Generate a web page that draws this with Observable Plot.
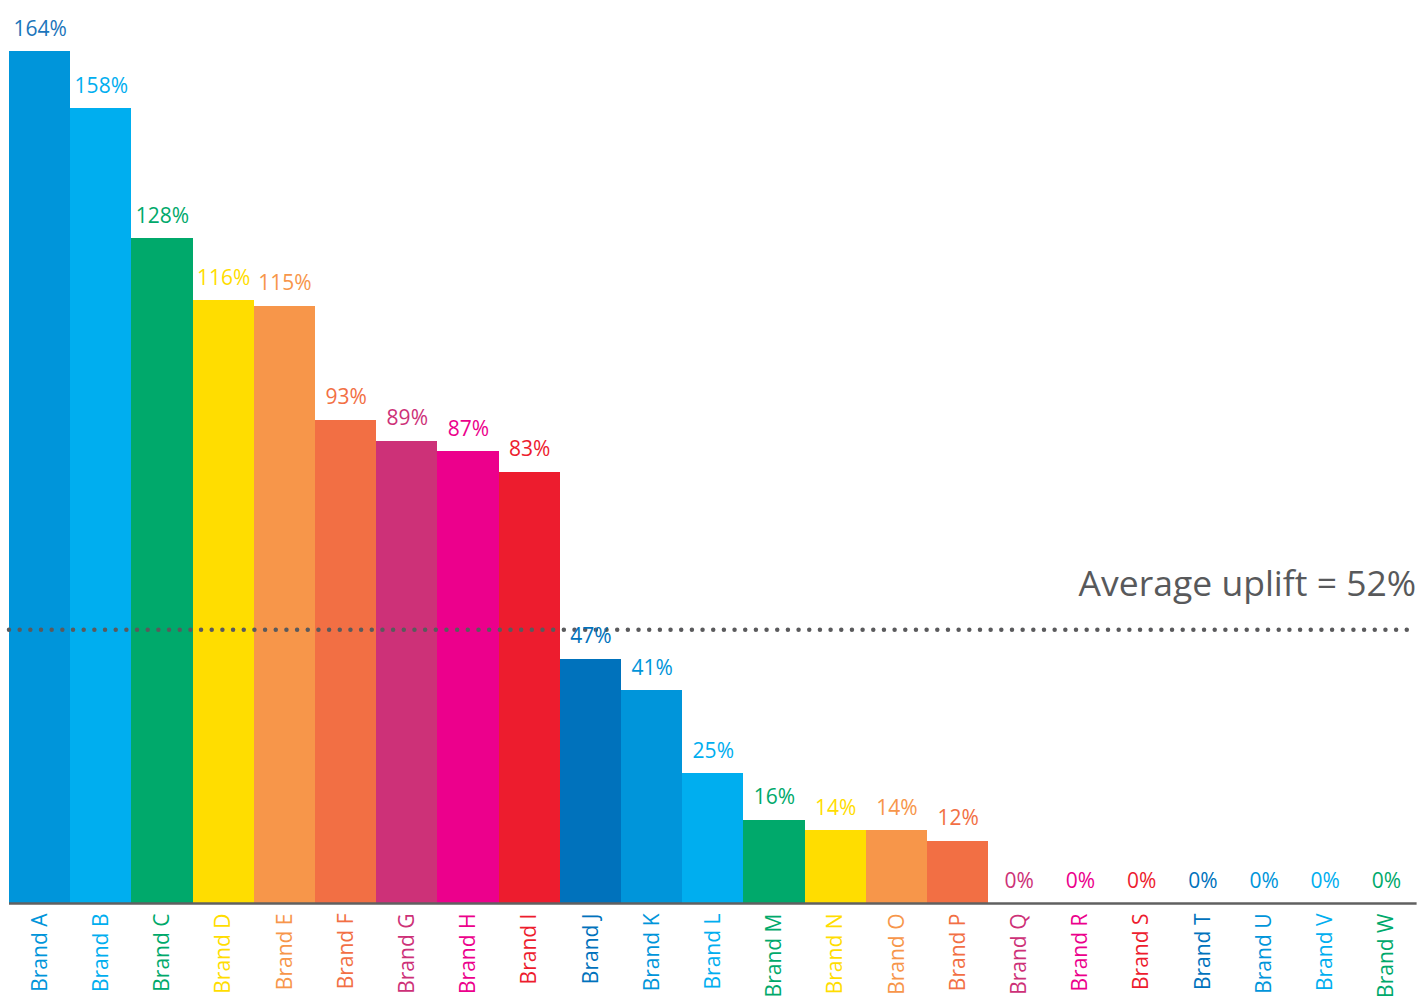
<!DOCTYPE html>
<html>
<head>
<meta charset="utf-8">
<script src="https://cdn.jsdelivr.net/npm/d3@7"></script>
<script src="https://cdn.jsdelivr.net/npm/@observablehq/plot@0.6"></script>
<style>
  html, body { margin: 0; padding: 0; background: #fff; }
  #chart svg { display: block; }
</style>
</head>
<body>
<div id="chart"></div>
<script>
const brands = ["Brand A","Brand B","Brand C","Brand D","Brand E","Brand F","Brand G","Brand H","Brand I","Brand J","Brand K","Brand L","Brand M","Brand N","Brand O","Brand P","Brand Q","Brand R","Brand S","Brand T","Brand U","Brand V","Brand W"];
// bar heights as drawn in the picture
const barValues = [164,153,128,116,115,93,89,87,83,47,41,25,16,14,14,12,0,0,0,0,0,0,0];
// value labels as printed
const valueLabels = ["164%","158%","128%","116%","115%","93%","89%","87%","83%","47%","41%","25%","16%","14%","14%","12%","0%","0%","0%","0%","0%","0%","0%"];
const colors = ["#0095DA","#00AEEF","#00A96B","#FFDD00","#F7964A","#F26F44","#CD3178","#EC008C","#ED1C2E","#0072BC","#0095DA","#00AEEF","#00A96B","#FFDD00","#F7964A","#F26F44","#CD3178","#EC008C","#ED1C2E","#0072BC","#0095DA","#00AEEF","#00A96B"];
const labelColors = ["#1B75BB","#00AEEF","#00A96B","#FFDD00","#F7964A","#F26F44","#CD3178","#EC008C","#ED1C2E","#0072BC","#0095DA","#00AEEF","#00A96B","#FFDD00","#F7964A","#F26F44","#CD3178","#EC008C","#ED1C2E","#0072BC","#0095DA","#00AEEF","#00A96B"];
const avgLine = 52.7;
const avgText = "Average uplift = 52%";

const data = brands.map((b, i) => ({brand: b, value: barValues[i], label: valueLabels[i], color: colors[i], labelColor: labelColors[i]}));

const font = "'Open Sans', 'DejaVu Sans', sans-serif";

const chart = Plot.plot({
  width: 1418,
  height: 999,
  marginTop: 51,
  marginBottom: 96,
  marginLeft: 9,
  marginRight: 1.4,
  style: {fontFamily: font, background: "#fff"},
  x: {type: "band", domain: brands, padding: 0, round: false, axis: null},
  y: {domain: [0, 164], axis: null},
  marks: [
    Plot.barY(data, {x: "brand", y: "value", fill: d => d.color, shapeRendering: "crispEdges"}),
    Plot.ruleY([avgLine], {stroke: "#5A5A5C", strokeWidth: 4.5, strokeDasharray: "0 10.67", strokeLinecap: "round"}),
    Plot.ruleY([0], {stroke: "#606060", strokeWidth: 2.5}),
    Plot.text(data, {x: "brand", y: "value", text: "label", fill: d => d.labelColor, fontSize: 21, lineAnchor: "bottom", dy: -16}),
    Plot.text(data, {x: "brand", y: 0, text: "brand", fill: d => d.color, fontSize: 21, rotate: -90, textAnchor: "end", dy: 10}),
    Plot.text([avgText], {frameAnchor: "right", y: [avgLine], text: d => d, fill: "#58595B", fontSize: 35.5, textAnchor: "end", lineAnchor: "bottom", dy: -34, dx: -1})
  ]
});
document.getElementById("chart").appendChild(chart);
</script>
</body>
</html>
